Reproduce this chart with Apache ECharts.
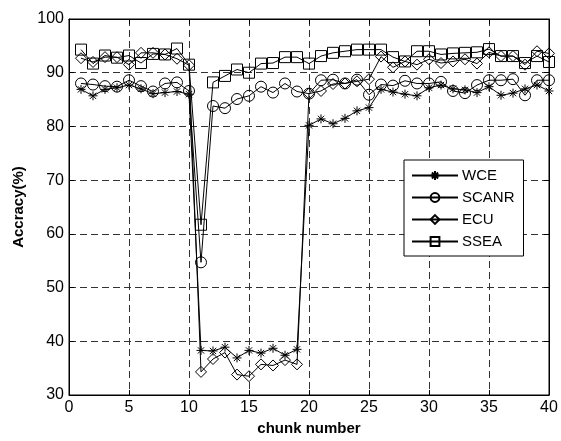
<!DOCTYPE html>
<html>
<head>
<meta charset="utf-8">
<script src="https://cdn.jsdelivr.net/npm/echarts@6/dist/echarts.min.js"></script>
<style>
html,body{margin:0;padding:0;background:#fff;}
#c{width:561px;height:441px;}
</style>
</head>
<body>
<div id="c"></div>
<script>
var chunks = [1,2,3,4,5,6,7,8,9,10,11,12,13,14,15,16,17,18,19,20,21,22,23,24,25,26,27,28,29,30,31,32,33,34,35,36,37,38,39,40];
var wce = [86.9,85.7,86.9,87.2,87.7,87.0,86.1,86.3,86.5,86.0,38.3,38.2,38.9,36.9,38.3,37.8,38.7,37.4,38.5,80.2,81.4,80.5,81.5,82.9,83.5,86.9,86.4,86.0,85.7,87.2,87.7,87.0,86.8,86.3,87.4,85.8,86.2,87.0,87.7,86.6];
var scanr = [88.0,87.8,87.5,87.4,88.6,87.5,86.5,88.0,88.2,86.6,54.7,83.8,83.4,85.1,85.7,87.4,86.3,88.0,86.5,86.1,88.6,88.7,88.0,88.7,85.9,87.8,87.6,88.5,88.0,88.0,88.3,86.6,86.2,87.7,88.6,88.6,88.8,85.8,88.6,88.6];
var ecu = [92.7,92.0,92.9,92.9,91.5,93.7,93.7,93.4,92.6,91.4,34.3,36.7,37.9,33.8,33.5,35.7,35.5,36.5,35.7,86.1,86.6,87.9,88.0,88.4,88.8,93.0,91.0,92.1,91.5,92.5,91.8,92.1,92.5,91.7,93.8,93.1,93.1,91.5,94.0,93.6];
var ssea = [94.3,91.7,93.2,92.8,93.2,91.8,93.5,93.4,94.5,91.5,61.7,88.2,89.4,90.6,90.0,91.7,91.8,92.9,92.9,91.7,93.1,93.7,94.0,94.3,94.3,94.3,92.9,92.1,94.0,94.0,93.4,93.6,93.7,93.8,94.4,93.1,93.1,91.8,93.1,92.0];
var seriesNames = ['WCE','SCANR','ECU','SSEA'];
var xTicks = [0,5,10,15,20,25,30,35,40];
var yTicks = [30,40,50,60,70,80,90,100];

var FONT = '"Liberation Sans", Arial, sans-serif';
var starPath = 'path://M0,5L10,5M5,0L5,10M1.5,1.5L8.5,8.5M8.5,1.5L1.5,8.5';
var symbols = [starPath, 'circle', 'diamond', 'rect'];
var sizes = [9, 11, 11, 11];
var values = [wce, scanr, ecu, ssea];

function pairs(v){ return chunks.map(function(c,i){ return [c, v[i]]; }); }

var series = seriesNames.map(function(n, k){
  return {
    name: n, type: 'line', data: pairs(values[k]),
    symbol: symbols[k], symbolSize: sizes[k], showAllSymbol: true,
    lineStyle: {color: '#000', width: 1},
    itemStyle: {color: 'rgba(255,255,255,0)', borderColor: '#000', borderWidth: 1},
    emphasis: {disabled: true},
    animation: false,
    z: 3
  };
});

var gridLine = {show: true, lineStyle: {color: '#333', width: 1, type: [7, 4]}};
var chart = echarts.init(document.getElementById('c'), null, {renderer: 'canvas'});
chart.setOption({
  backgroundColor: '#fff',
  animation: false,
  grid: {left: 69, right: 12, top: 19, bottom: 42, show: true, borderColor: '#000', borderWidth: 1, backgroundColor: 'transparent'},
  legend: {
    orient: 'vertical', left: 404, top: 160,
    data: seriesNames,
    itemWidth: 46, itemHeight: 11, itemGap: 7,
    padding: [8, 9, 7, 7],
    backgroundColor: '#fff', borderColor: '#000', borderWidth: 1,
    textStyle: {fontFamily: FONT, fontSize: 15, color: '#000', padding: [0,0,0,-1]},
    selectedMode: false
  },
  xAxis: [{
    type: 'value', min: 0, max: 40, interval: 5,
    name: 'chunk number', nameLocation: 'middle', nameGap: 26,
    nameTextStyle: {fontFamily: FONT, fontSize: 15, fontWeight: 'bold', color: '#000', verticalAlign: 'top'},
    axisLine: {show: true, onZero: false, lineStyle: {color: '#000', width: 1}},
    axisTick: {show: true, inside: true, length: 5, lineStyle: {color: '#000'}},
    axisLabel: {fontFamily: FONT, fontSize: 16, color: '#000', margin: 5,
      formatter: function(v){ return xTicks.indexOf(v) >= 0 ? String(v) : ''; }},
    splitLine: gridLine
  }, {
    type: 'value', min: 0, max: 40, interval: 5, position: 'top',
    axisLine: {show: true, onZero: false, lineStyle: {color: '#000'}},
    axisTick: {show: true, inside: true, length: 5, lineStyle: {color: '#000'}},
    axisLabel: {show: false}, splitLine: {show: false}
  }],
  yAxis: [{
    type: 'value', min: 30, max: 100, interval: 10,
    name: 'Accracy(%)', nameLocation: 'middle', nameGap: 37,
    nameTextStyle: {fontFamily: FONT, fontSize: 15, fontWeight: 'bold', color: '#000'},
    axisLine: {show: true, onZero: false, lineStyle: {color: '#000', width: 1}},
    axisTick: {show: true, inside: true, length: 5, lineStyle: {color: '#000'}},
    axisLabel: {fontFamily: FONT, fontSize: 16, color: '#000', margin: 5,
      formatter: function(v){ return yTicks.indexOf(v) >= 0 ? String(v) : ''; }},
    splitLine: gridLine
  }, {
    type: 'value', min: 30, max: 100, interval: 10, position: 'right',
    axisLine: {show: true, onZero: false, lineStyle: {color: '#000'}},
    axisTick: {show: true, inside: true, length: 5, lineStyle: {color: '#000'}},
    axisLabel: {show: false}, splitLine: {show: false}
  }],
  series: series
});
</script>
</body>
</html>
